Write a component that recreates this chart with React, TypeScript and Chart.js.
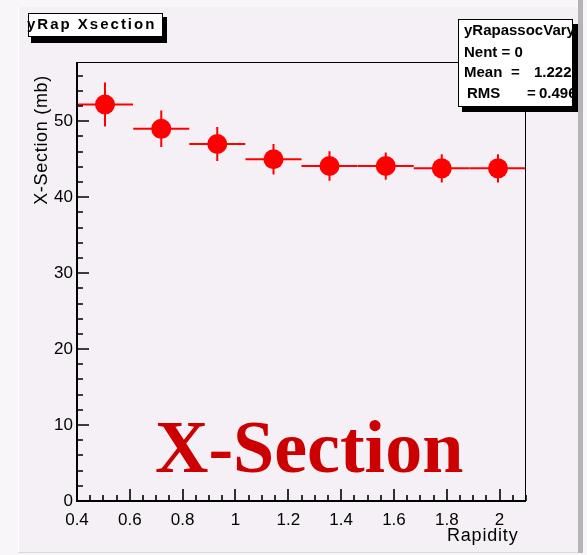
import React, { useEffect, useRef } from "react";
import { Chart, registerables } from "chart.js";

Chart.register(...registerables);

// Histogram contents: bin centres (rapidity), half bin width, cross-section and its error
const rapidity = [0.506, 0.719, 0.931, 1.144, 1.356, 1.569, 1.781, 1.994];
const binHalfWidth = [0.106, 0.106, 0.106, 0.106, 0.106, 0.106, 0.106, 0.106];
const xsection = [52.2, 49.0, 47.0, 45.0, 44.1, 44.1, 43.8, 43.8];
const xsectionErr = [2.9, 2.4, 2.25, 2.0, 1.95, 1.8, 1.85, 1.85];

// Axis ranges and division steps
const xRange = [0.4, 2.1];
const yRange = [0, 57.8];
const xMajorStep = 0.2;
const xMinorPerMajor = 4;
const yMajorStep = 10;
const yMinorPerMajor = 5;

// Text
const histTitle = "yRap Xsection";
const statsName = "yRapassocVary";
const statsEntries = "Nent = 0";
const statsMeanLabel = "Mean";
const statsMean = "1.222";
const statsRmsLabel = "RMS";
const statsRms = "0.4965";
const xTitle = "Rapidity";
const yTitle = "X-Section (mb)";
const banner = "X-Section";

const SANS = '"Liberation Sans", Arial, sans-serif';
const SERIF = '"Liberation Serif", "Times New Roman", serif';
const RED = "#ff0000";

const rootStyle = {
  id: "rootStyle",
  beforeDraw(chart: any) {
    const ctx = chart.ctx as CanvasRenderingContext2D;
    const W = chart.width;
    const H = chart.height;
    ctx.save();
    ctx.fillStyle = "#f8f6f8";
    ctx.fillRect(0, 0, W, H);
    // canvas pad
    ctx.fillStyle = "#f5f0f5";
    ctx.fillRect(18, 7, 560, 546);
    ctx.fillStyle = "#ffffff";
    ctx.fillRect(18, 7, 1, 546);
    ctx.fillStyle = "#b6b3b6";
    ctx.fillRect(578, 0, 5, 553);
    ctx.fillStyle = "#dcd8dc";
    ctx.fillRect(18, 552, 560, 1);
    ctx.restore();
  },
  beforeDatasetsDraw(chart: any) {
    const ctx = chart.ctx as CanvasRenderingContext2D;
    const xs = chart.scales.x;
    const ys = chart.scales.y;
    ctx.save();
    ctx.strokeStyle = RED;
    ctx.lineWidth = 2;
    rapidity.forEach((x, i) => {
      const y = ys.getPixelForValue(xsection[i]);
      const x0 = xs.getPixelForValue(x - binHalfWidth[i]);
      const x1 = xs.getPixelForValue(x + binHalfWidth[i]);
      const xc = xs.getPixelForValue(x);
      const yLo = ys.getPixelForValue(xsection[i] - xsectionErr[i]);
      const yHi = ys.getPixelForValue(xsection[i] + xsectionErr[i]);
      ctx.beginPath();
      ctx.moveTo(x0, y);
      ctx.lineTo(x1, y);
      ctx.moveTo(xc, yLo);
      ctx.lineTo(xc, yHi);
      ctx.stroke();
    });
    ctx.restore();
  },
  afterDatasetsDraw(chart: any) {
    const ctx = chart.ctx as CanvasRenderingContext2D;
    const { left, right, top, bottom } = chart.chartArea;
    const xs = chart.scales.x;
    const ys = chart.scales.y;
    ctx.save();
    ctx.strokeStyle = "#000";
    // thin top and right frame edges
    ctx.lineWidth = 1;
    ctx.beginPath();
    ctx.moveTo(left, top + 0.5);
    ctx.lineTo(right - 0.5, top + 0.5);
    ctx.lineTo(right - 0.5, bottom);
    ctx.stroke();
    // axis lines
    ctx.lineWidth = 2;
    ctx.beginPath();
    ctx.moveTo(left, top);
    ctx.lineTo(left, bottom);
    ctx.lineTo(right, bottom);
    ctx.stroke();
    // inward tick marks
    ctx.lineWidth = 1.6;
    const xMinor = xMajorStep / xMinorPerMajor;
    const nx = Math.round((xRange[1] - xRange[0]) / xMinor);
    ctx.beginPath();
    for (let i = 0; i <= nx; i++) {
      const px = Math.round(xs.getPixelForValue(xRange[0] + i * xMinor));
      const len = i % xMinorPerMajor === 0 ? 12 : 6;
      ctx.moveTo(px, bottom);
      ctx.lineTo(px, bottom - len);
    }
    const yMinor = yMajorStep / yMinorPerMajor;
    const ny = Math.floor((yRange[1] - yRange[0]) / yMinor);
    for (let i = 0; i <= ny; i++) {
      const py = Math.round(ys.getPixelForValue(yRange[0] + i * yMinor));
      const len = i % yMinorPerMajor === 0 ? 12 : 6;
      ctx.moveTo(left, py);
      ctx.lineTo(left + len, py);
    }
    ctx.stroke();
    ctx.restore();
  },
  afterDraw(chart: any) {
    const ctx = chart.ctx as CanvasRenderingContext2D;
    ctx.save();
    ctx.fillStyle = "#000";
    ctx.textBaseline = "alphabetic";

    // axis titles
    ctx.save();
    ctx.font = `18px ${SANS}`;
    (ctx as any).letterSpacing = "0.7px";
    ctx.translate(42, 75);
    ctx.rotate(-Math.PI / 2);
    ctx.textAlign = "right";
    ctx.textBaseline = "middle";
    ctx.fillText(yTitle, 0, 0);
    ctx.restore();

    ctx.save();
    ctx.font = `18px ${SANS}`;
    (ctx as any).letterSpacing = "0.8px";
    ctx.textAlign = "left";
    ctx.fillText(xTitle, 447, 541);
    ctx.restore();

    // banner
    ctx.save();
    ctx.font = `bold 74px ${SERIF}`;
    ctx.fillStyle = "#cc0000";
    ctx.textAlign = "left";
    ctx.fillText(banner, 155, 472);
    ctx.restore();

    // histogram title box
    ctx.save();
    ctx.fillStyle = "#000";
    ctx.fillRect(31, 17, 136, 26);
    ctx.fillStyle = "#fff";
    ctx.fillRect(28, 13, 135, 24);
    ctx.strokeStyle = "#000";
    ctx.lineWidth = 1;
    ctx.strokeRect(28.5, 13.5, 134, 23);
    ctx.fillStyle = "#000";
    ctx.font = `bold 15px ${SANS}`;
    (ctx as any).letterSpacing = "2px";
    ctx.fillText(histTitle, 27, 28.5);
    ctx.restore();

    // statistics box
    ctx.save();
    ctx.fillStyle = "#000";
    ctx.fillRect(462, 24, 116, 88);
    ctx.fillStyle = "#fff";
    ctx.fillRect(458, 19, 115, 88);
    ctx.strokeStyle = "#000";
    ctx.lineWidth = 1;
    ctx.strokeRect(458.5, 19.5, 114, 87);
    ctx.beginPath();
    ctx.rect(459, 20, 113, 86);
    ctx.clip();
    ctx.fillStyle = "#000";
    ctx.font = `bold 15px ${SANS}`;
    ctx.fillText(statsName, 464, 35);
    ctx.fillText(statsEntries, 464, 57);
    ctx.fillText(statsMeanLabel, 464, 77);
    ctx.fillText("=", 511, 77);
    ctx.fillText(statsMean, 534, 77);
    ctx.fillText(statsRmsLabel, 467, 98);
    ctx.fillText("=", 527, 98);
    ctx.fillText(statsRms, 539, 98);
    ctx.restore();

    ctx.restore();
  },
};

export default function App() {
  const ref = useRef<HTMLCanvasElement>(null);

  useEffect(() => {
    const canvas = ref.current;
    if (!canvas) return;
    const tickFont = { family: SANS, size: 17 };
    const chart = new Chart(canvas, {
      type: "scatter",
      data: {
        datasets: [
          {
            label: "xsection",
            data: rapidity.map((x, i) => ({ x, y: xsection[i] })),
            pointRadius: 10,
            pointHoverRadius: 10,
            pointStyle: "circle",
            backgroundColor: RED,
            borderColor: RED,
            borderWidth: 0,
            showLine: false,
          },
        ],
      },
      options: {
        responsive: false,
        devicePixelRatio: 1,
        animation: false,
        events: [],
        layout: { padding: { left: 0, right: 61, top: 62, bottom: 0 } },
        plugins: {
          legend: { display: false },
          tooltip: { enabled: false },
          title: { display: false },
        },
        scales: {
          x: {
            type: "linear",
            min: xRange[0],
            max: xRange[1],
            grid: { display: false, drawTicks: false },
            border: { display: false },
            ticks: {
              stepSize: xMajorStep,
              includeBounds: false,
              autoSkip: false,
              maxRotation: 0,
              padding: 9,
              color: "#000",
              font: tickFont,
              callback: (v: any) => String(Math.round(Number(v) * 10) / 10),
            },
            afterFit: (s: any) => {
              s.height = 54;
            },
          },
          y: {
            type: "linear",
            min: yRange[0],
            max: yRange[1],
            grid: { display: false, drawTicks: false },
            border: { display: false },
            ticks: {
              stepSize: yMajorStep,
              includeBounds: false,
              padding: 4,
              color: "#000",
              font: tickFont,
              callback: (v: any) => String(Math.round(Number(v))),
            },
            afterFit: (s: any) => {
              s.width = 77;
            },
          },
        },
      },
      plugins: [rootStyle],
    } as any);
    return () => chart.destroy();
  }, []);

  return (
    <div
      style={{
        position: "fixed",
        left: 0,
        top: 0,
        width: 587,
        height: 555,
        background: "#f8f6f8",
      }}
    >
      <canvas ref={ref} width={587} height={555} style={{ display: "block", width: 587, height: 555 }} />
    </div>
  );
}
